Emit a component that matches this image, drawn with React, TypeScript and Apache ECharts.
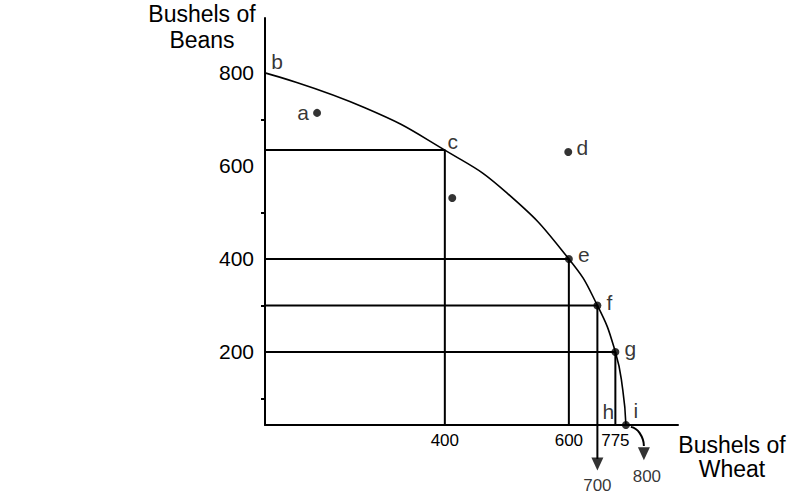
import React, { useEffect, useRef } from "react";
import * as echarts from "echarts";

// Axis ranges (schematic drawing units)
const X_MIN = 110;
const X_MAX = 776;
const Y_MIN = 43;
const Y_MAX = 918;

// Beans axis (vertical)
const beanLabels = [200, 400, 600, 800];
const beanMinorTicks = [100, 300, 500, 700];

// Wheat axis (horizontal) – schematic positions and their printed labels
const wheatTickPos = [400, 600, 675];
const wheatTickText = ["400", "600", "775"];

// Production possibilities frontier b ... c ... e - f - g ... i
const frontierX = [110, 271, 400, 500, 600, 646, 675, 687, 692];
const frontierY = [800, 725, 634, 542, 400, 300, 200, 118, 43];

// Guide lines dropped from c, e, f, g
const guideX = [400, 600, 646, 675];
const guideY = [634, 400, 300, 200];

// Dots (with labels)
const dotNames = ["a", "d", "", "e", "f", "g", "i"];
const dotX = [194, 599, 412, 600, 646, 675, 692];
const dotY = [714, 630, 531, 400, 300, 200, 43];
const dotLabelOffset: [number, number][] = [
  [-14, 0],
  [14, -4],
  [0, 0],
  [15, -4],
  [12, -3],
  [15, -3],
  [10, -15],
];

// Label-only points
const tagNames = ["b", "c", "h"];
const tagX = [110, 400, 646];
const tagY = [800, 634, 43];
const tagOffset: [number, number][] = [
  [12, -11],
  [8, -9],
  [11, -14],
];

// Arrows below the wheat axis
const arrow700X = [646, 646];
const arrow700Y = [43, -30];
const arrow700Head = [646, -41];
const arrow700Text = "700";
const arrow800X = [700, 714, 721];
const arrow800Y = [39, 26, -2];
const arrow800Head = [721, -19];
const arrow800Text = "800";

const FONT = "Liberation Sans, Arial, Helvetica, sans-serif";

export default function App() {
  const ref = useRef<HTMLDivElement>(null);

  useEffect(() => {
    if (!ref.current) return;
    const chart = echarts.init(ref.current, null, { renderer: "svg" });

    const lineBase = {
      type: "line" as const,
      showSymbol: false,
      symbol: "none",
      silent: true,
      clip: false,
      lineStyle: { color: "#000", width: 2 },
    };

    const guideSeries = guideX.map((gx, i) => ({
      ...lineBase,
      data: [
        [X_MIN, guideY[i]],
        [gx, guideY[i]],
        [gx, Y_MIN],
      ],
    }));

    const option: any = {
      animation: false,
      backgroundColor: "#fff",
      textStyle: { fontFamily: FONT, color: "#000" },
      grid: { left: 265, right: 114, top: 18, bottom: 72 },
      xAxis: {
        type: "value",
        min: X_MIN,
        max: X_MAX,
        splitLine: { show: false },
        axisLine: { show: true, lineStyle: { color: "#000", width: 2 } },
        axisTick: { show: false },
        axisLabel: {
          customValues: wheatTickPos,
          formatter: (v: number) => {
            const k = wheatTickPos.indexOf(v);
            return k >= 0 ? wheatTickText[k] : "";
          },
          color: "#000",
          fontSize: 17,
          fontFamily: FONT,
          margin: 7,
        },
      },
      yAxis: {
        type: "value",
        min: Y_MIN,
        max: Y_MAX,
        splitLine: { show: false },
        axisLine: { show: true, lineStyle: { color: "#000", width: 2 } },
        axisTick: {
          show: true,
          customValues: beanMinorTicks,
          length: 4,
          lineStyle: { color: "#000", width: 2 },
        },
        axisLabel: {
          customValues: beanLabels,
          color: "#000",
          fontSize: 21,
          fontFamily: FONT,
          margin: 11,
          padding: [8, 0, 0, 0],
        },
      },
      graphic: [
        {
          type: "text",
          x: 202,
          y: 27,
          style: {
            text: "Bushels of\nBeans",
            fill: "#000",
            font: `23px ${FONT}`,
            align: "center",
            verticalAlign: "middle",
            lineHeight: 26,
          },
        },
        {
          type: "text",
          x: 732,
          y: 457,
          style: {
            text: "Bushels of\nWheat",
            fill: "#000",
            font: `23px ${FONT}`,
            align: "center",
            verticalAlign: "middle",
            lineHeight: 24,
          },
        },
      ],
      series: [
        {
          ...lineBase,
          smooth: 0.5,
          lineStyle: { color: "#000", width: 1.6 },
          data: frontierX.map((x, i) => [x, frontierY[i]]),
        },
        ...guideSeries,
        {
          ...lineBase,
          data: arrow700X.map((x, i) => [x, arrow700Y[i]]),
        },
        {
          ...lineBase,
          smooth: 0.6,
          lineStyle: { color: "#000", width: 2 },
          data: arrow800X.map((x, i) => [x, arrow800Y[i]]),
        },
        {
          type: "scatter",
          silent: true,
          clip: false,
          symbol: "triangle",
          symbolRotate: 180,
          symbolSize: [12, 13],
          itemStyle: { color: "#000" },
          label: {
            show: true,
            position: "bottom",
            distance: 6,
            color: "#000",
            fontSize: 17,
            fontFamily: FONT,
            formatter: (p: any) => p.name,
          },
          data: [
            { name: arrow700Text, value: arrow700Head },
            { name: arrow800Text, value: arrow800Head, label: { offset: [3, 2] } },
          ],
        },
        {
          type: "scatter",
          silent: true,
          clip: false,
          symbol: "circle",
          symbolSize: 8,
          itemStyle: { color: "#000" },
          label: {
            show: true,
            position: "inside",
            color: "#000",
            fontSize: 21,
            fontFamily: FONT,
            formatter: (p: any) => p.name,
          },
          data: dotNames.map((n, i) => ({
            name: n,
            value: [dotX[i], dotY[i]],
            label: { offset: dotLabelOffset[i] },
          })),
        },
        {
          type: "scatter",
          silent: true,
          clip: false,
          symbolSize: 0,
          itemStyle: { color: "#000" },
          label: {
            show: true,
            position: "inside",
            color: "#000",
            fontSize: 21,
            fontFamily: FONT,
            formatter: (p: any) => p.name,
          },
          data: tagNames.map((n, i) => ({
            name: n,
            value: [tagX[i], tagY[i]],
            label: { offset: tagOffset[i] },
          })),
        },
      ],
    };

    chart.setOption(option);
    return () => chart.dispose();
  }, []);

  return (
    <div
      ref={ref}
      style={{
        position: "absolute",
        left: 0,
        top: 0,
        width: 792,
        height: 497,
        background: "#fff",
      }}
    />
  );
}
